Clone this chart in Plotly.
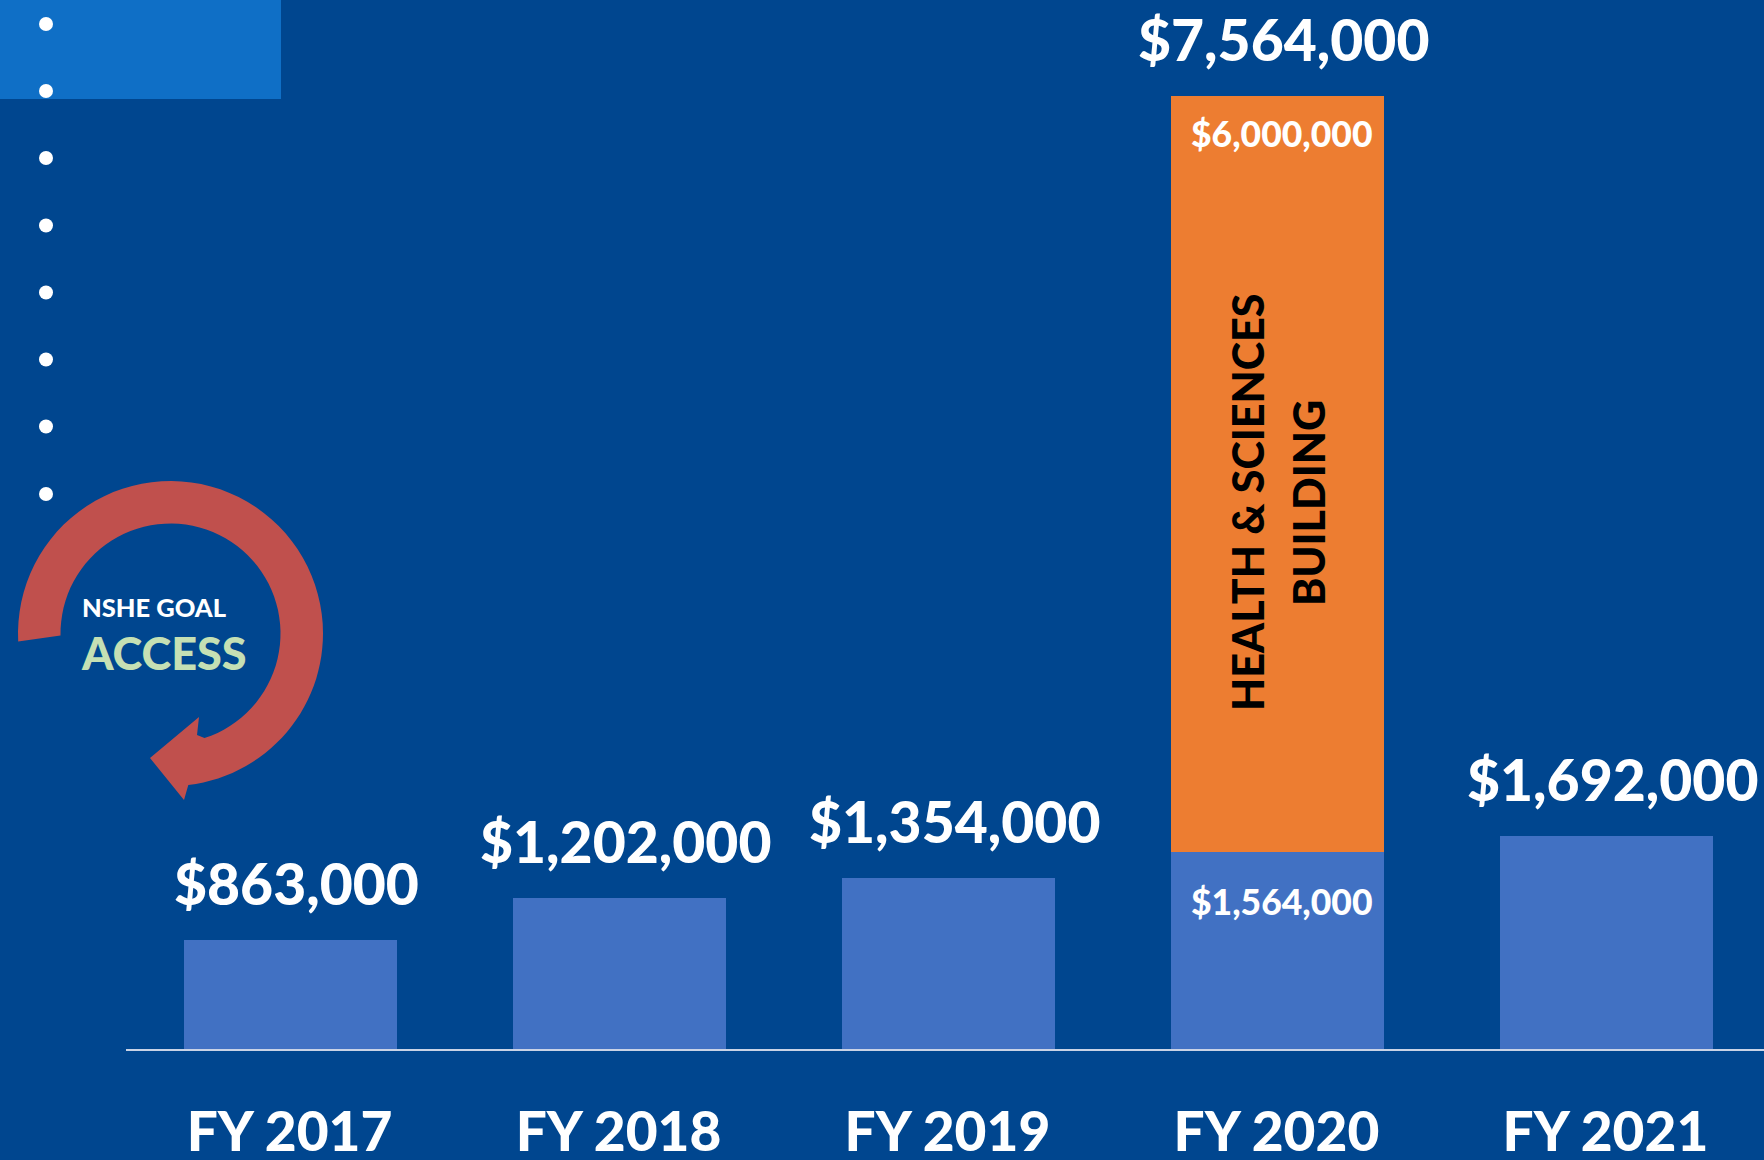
import numpy as np
import plotly.graph_objects as go

W, H = 1764, 1160
categories = ["FY 2017", "FY 2018", "FY 2019", "FY 2020", "FY 2021"]
base_values = [863000, 1202000, 1354000, 1564000, 1692000]
building_values = [0, 0, 0, 6000000, 0]
total_labels = ["$863,000", "$1,202,000", "$1,354,000", "$7,564,000", "$1,692,000"]
total_values = [b + o for b, o in zip(base_values, building_values)]

BG = "#00468F"
BLUE = "#4171C3"
ORANGE = "#ED7D31"
RED = "#C0504D"
FONT = "Lato"
WEIGHT = 900

fig = go.Figure()
fig.add_bar(x=categories, y=base_values, marker=dict(color=BLUE, line_width=0), xaxis="x", yaxis="y")
fig.add_bar(x=categories, y=building_values, marker=dict(color=ORANGE, line_width=0), xaxis="x", yaxis="y")

# decorative bullets from the slide (pixel overlay axes)
bullet_y = [24, 91, 158, 225.5, 292.5, 359.5, 426.5, 494]
fig.add_scatter(x=[46] * len(bullet_y), y=bullet_y, mode="markers",
                marker=dict(color="white", size=14, line_width=0), xaxis="x2", yaxis="y2")

# circular arrow decoration
cx, cy = 170.5, 633.5
R_out, R_in = 152.5, 110
def pol(r, a):
    return cx + r * np.cos(a), cy - r * np.sin(a)
outer = [pol(R_out, a) for a in np.radians(np.linspace(183, 0, 50))] + \
        [pol(R_out, a) for a in np.radians(np.linspace(0, -83.3, 30))]
inner = [(197, 735)] + [pol(R_in, a) for a in np.radians(np.linspace(-72, 181, 70))]
head = [(184, 800), (150, 758), (199, 717)]
pts = outer + head + inner
path = "M " + " L ".join(f"{x:.1f},{y:.1f}" for x, y in pts) + " Z"

shapes = [
    dict(type="rect", xref="x2", yref="y2", x0=0, x1=281, y0=0, y1=99,
         fillcolor="#0F6FC6", line_width=0, layer="below"),
    dict(type="path", xref="x2", yref="y2", path=path, fillcolor=RED, line_width=0, layer="below"),
]

def fnt(size, color):
    return dict(family=FONT, size=size, color=color, weight=WEIGHT)

annotations = []
for c, v, lab in zip(categories, total_values, total_labels):
    annotations.append(dict(x=c, y=v, xref="x", yref="y", text=lab, showarrow=False,
                            xshift=6, yshift=57, yanchor="middle", font=fnt(57, "white")))
annotations += [
    dict(x="FY 2020", y=7564000, xref="x", yref="y", text="$6,000,000", showarrow=False,
         xshift=5, yshift=-38, yanchor="middle", font=fnt(35.5, "white")),
    dict(x="FY 2020", y=1564000, xref="x", yref="y", text="$1,564,000", showarrow=False,
         xshift=5, yshift=-50, yanchor="middle", font=fnt(35.5, "white")),
    dict(x=1247, y=502, xref="x2", yref="y2", text="HEALTH &amp; SCIENCES", showarrow=False,
         textangle=-90, font=fnt(43, "black")),
    dict(x=1308, y=503, xref="x2", yref="y2", text="BUILDING", showarrow=False,
         textangle=-90, font=fnt(43, "black")),
    dict(x=79.5, y=607, xref="x2", yref="y2", text="NSHE GOAL", showarrow=False, xanchor="left",
         font=fnt(25.5, "white")),
    dict(x=78.5, y=653, xref="x2", yref="y2", text="ACCESS", showarrow=False, xanchor="left",
         font=fnt(45, "#C5E0B4")),
]

fig.update_layout(
    width=W, height=H, autosize=False, margin=dict(l=0, r=0, t=0, b=0, pad=0),
    paper_bgcolor=BG, plot_bgcolor="rgba(0,0,0,0)", barmode="stack", bargap=0.355, showlegend=False,
    shapes=shapes, annotations=annotations,
    xaxis=dict(domain=[126 / W, 1], range=[-0.5, 4.479], type="category", showgrid=False,
               showline=True, linecolor="#C9D3E6", linewidth=2, ticks="outside", ticklen=34,
               tickcolor="rgba(0,0,0,0)", zeroline=False, automargin=False, ticklabelshift=-1,
               tickfont=fnt(55, "white")),
    yaxis=dict(domain=[111 / H, 1], range=[0, 1049 / 126e-6], visible=False, showgrid=False, zeroline=False),
    xaxis2=dict(domain=[0, 1], range=[0, W], visible=False, anchor="y2", fixedrange=True),
    yaxis2=dict(domain=[0, 1], range=[H, 0], visible=False, anchor="x2", fixedrange=True),
)
fig.write_html("out.html", config=dict(displayModeBar=False),
               post_script="document.body.style.margin='0';document.body.style.background='#00468F';")
